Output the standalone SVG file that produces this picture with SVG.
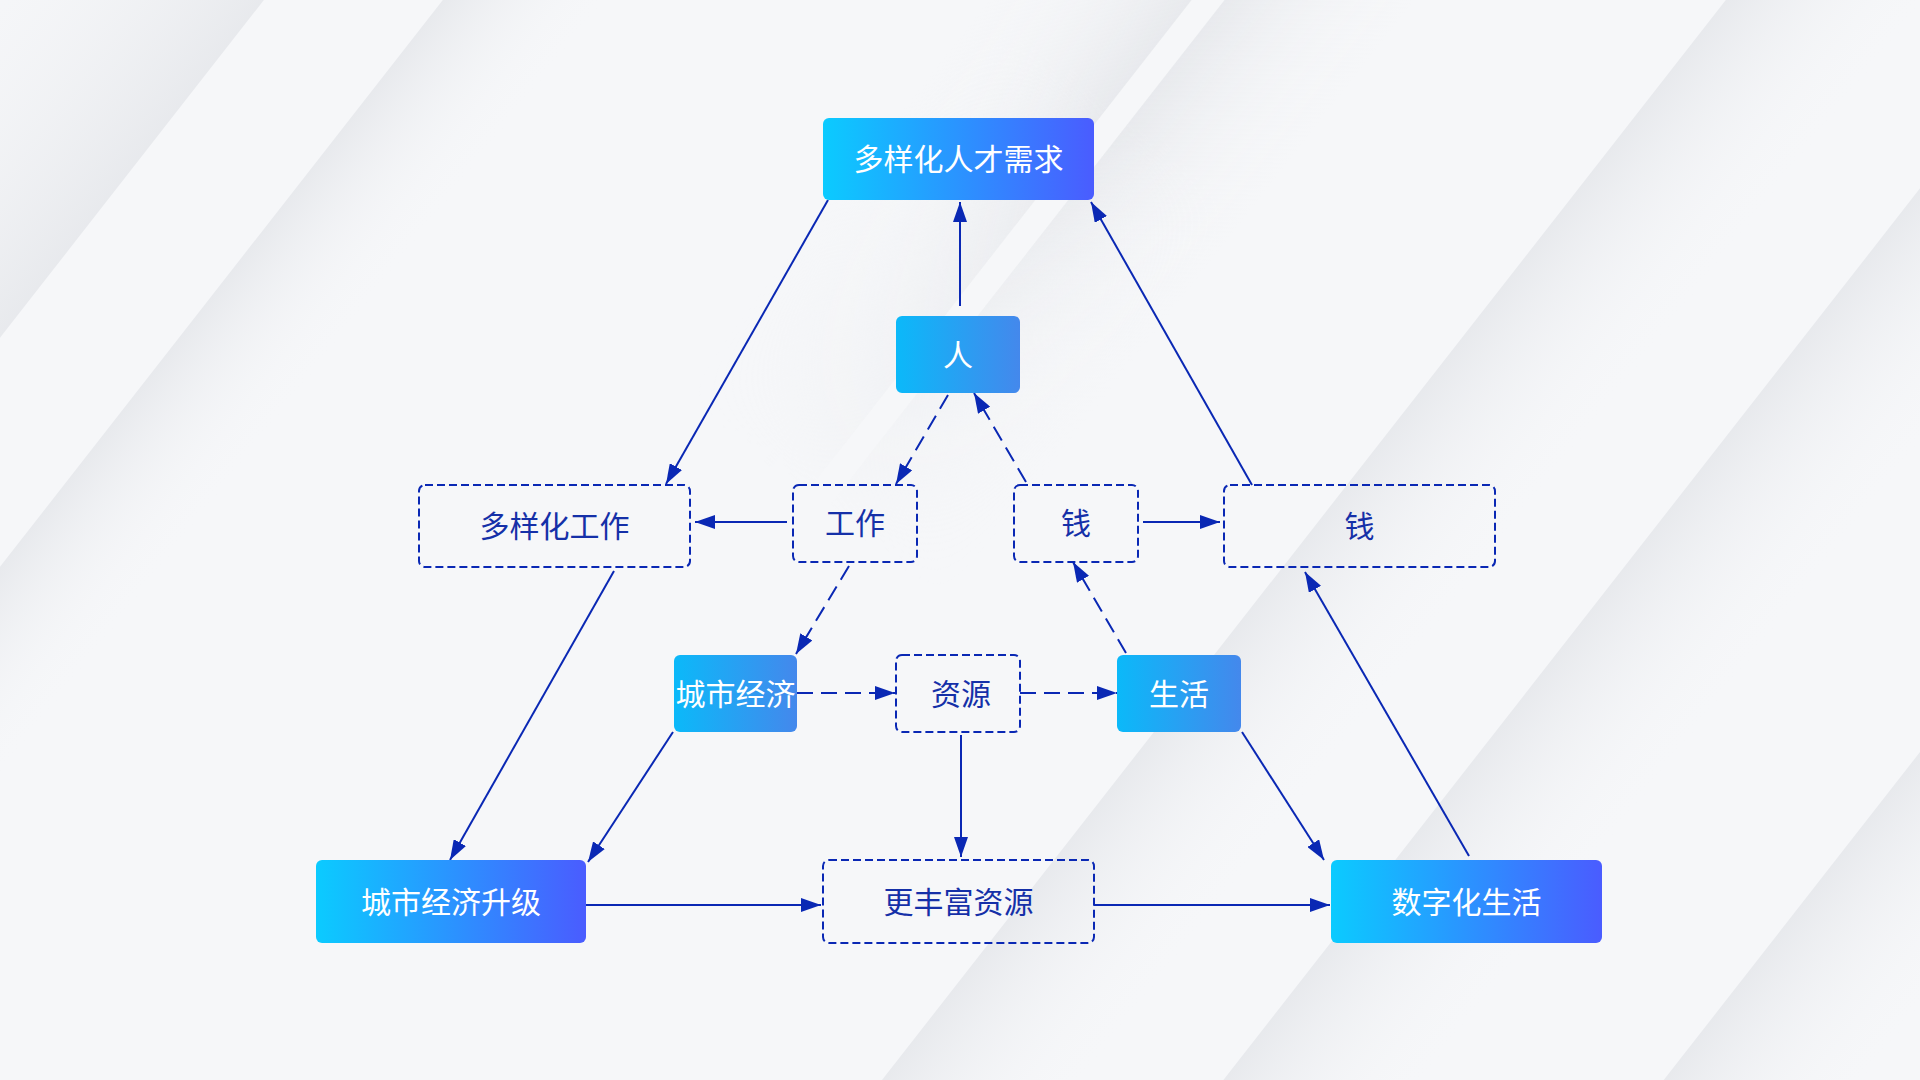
<svg xmlns="http://www.w3.org/2000/svg" width="1920" height="1080" viewBox="0 0 1920 1080">
<defs>
<linearGradient id="gBig" x1="0" y1="0" x2="1" y2="0">
<stop offset="0" stop-color="#0BCBFF"/>
<stop offset="1" stop-color="#4A5CFF"/>
</linearGradient>
<linearGradient id="gSmall" x1="0" y1="0" x2="1" y2="0">
<stop offset="0" stop-color="#0BB9F9"/>
<stop offset="1" stop-color="#4488EC"/>
</linearGradient>
<linearGradient id="bgDown" x1="0" y1="0" x2="0" y2="1">
<stop offset="0" stop-color="#E3E5E9" stop-opacity="0.75"/>
<stop offset="1" stop-color="#F6F7F9" stop-opacity="0"/>
</linearGradient>
<linearGradient id="bgUp" x1="0" y1="1" x2="0" y2="0">
<stop offset="0" stop-color="#E3E5E9" stop-opacity="0.75"/>
<stop offset="1" stop-color="#F6F7F9" stop-opacity="0"/>
</linearGradient>
<linearGradient id="fadeAlong" gradientUnits="userSpaceOnUse" x1="900" y1="0" x2="1400" y2="0">
<stop offset="0" stop-color="#000000"/>
<stop offset="1" stop-color="#FFFFFF"/>
</linearGradient>
<mask id="mTop" maskUnits="userSpaceOnUse" x="-1500" y="-1500" width="4500" height="4500">
<rect x="-1500" y="-1500" width="4500" height="4500" fill="url(#fadeAlong)"/>
</mask>
<marker id="arr" viewBox="0 0 20 14" refX="20" refY="7" markerWidth="20" markerHeight="14" markerUnits="userSpaceOnUse" orient="auto">
<path d="M0,0 L20,7 L0,14 Z" fill="#0A28B4"/>
</marker>
<style>
.big{fill:url(#gBig);}
.small{fill:url(#gSmall);}
.dash{fill:none;stroke:#0A28B4;stroke-width:2;stroke-dasharray:8 4;}
.tw{font-family:"Noto Sans CJK SC","Noto Sans",sans-serif;font-size:30px;fill:#FFFFFF;text-anchor:middle;dominant-baseline:central;}
.tb{font-family:"Noto Sans CJK SC","Noto Sans",sans-serif;font-size:30px;fill:#1530A8;text-anchor:middle;dominant-baseline:central;}
.ln{fill:none;stroke:#0A28B4;stroke-width:2;marker-end:url(#arr);}
.ld{fill:none;stroke:#0A28B4;stroke-width:2;stroke-dasharray:16 8;marker-end:url(#arr);}
</style>
</defs>
<g id="background">
<rect x="0" y="0" width="1920" height="1080" fill="#F6F7F9"/>
<g transform="rotate(-52 960 540)">
<rect x="-1500" y="-620" width="4500" height="279" fill="url(#bgUp)"/>
<rect x="-1500" y="-200" width="4500" height="130" fill="url(#bgDown)"/>
<rect x="-1500" y="230" width="4500" height="160" fill="url(#bgUp)" mask="url(#mTop)"/>
<rect x="-1500" y="416" width="4500" height="150" fill="url(#bgDown)" mask="url(#mTop)"/>
<rect x="-1500" y="811" width="4500" height="160" fill="url(#bgDown)"/>
<rect x="-1500" y="1080" width="4500" height="160" fill="url(#bgDown)"/>
<rect x="-1500" y="1427" width="4500" height="160" fill="url(#bgDown)"/>
</g>
</g>
<g id="connectors">
<path class="ln" d="M960,306 L960,202"/>
<path class="ln" d="M828,200 L666,484"/>
<path class="ln" d="M1252,485 L1091,202"/>
<path class="ld" d="M948,395 L896,484"/>
<path class="ld" d="M1026,482 L974,393"/>
<path class="ln" d="M787,522 L695,522"/>
<path class="ln" d="M1143,522 L1220,522"/>
<path class="ld" d="M849,566 L796,654"/>
<path class="ld" d="M1126,653 L1073,562"/>
<path class="ld" d="M797,693 L895,693"/>
<path class="ld" d="M1020,693 L1117,693"/>
<path class="ln" d="M614,571 L450,860"/>
<path class="ln" d="M673,732 L588,862"/>
<path class="ln" d="M961,735 L961,857"/>
<path class="ln" d="M1469,856 L1305,572"/>
<path class="ln" d="M1242,732 L1324,860"/>
<path class="ln" d="M585,905 L821,905"/>
<path class="ln" d="M1094,905 L1330,905"/>
</g>
<g id="node-talent">
<rect class="big" x="823" y="118" width="271" height="82" rx="6"/>
<text class="tw" x="958.5" y="157">多样化人才需求</text>
</g>
<g id="node-people">
<rect class="small" x="896" y="316" width="124" height="77" rx="6"/>
<text class="tw" x="958" y="352.5">人</text>
</g>
<g id="node-diverse-work">
<rect class="dash" x="419" y="485" width="271" height="82" rx="6"/>
<text class="tb" x="554.5" y="524">多样化工作</text>
</g>
<g id="node-work">
<rect class="dash" x="793" y="485" width="124" height="77" rx="6"/>
<text class="tb" x="855" y="521">工作</text>
</g>
<g id="node-money-small">
<rect class="dash" x="1014" y="485" width="124" height="77" rx="6"/>
<text class="tb" x="1076" y="521">钱</text>
</g>
<g id="node-money-large">
<rect class="dash" x="1224" y="485" width="271" height="82" rx="6"/>
<text class="tb" x="1359.5" y="524">钱</text>
</g>
<g id="node-city-economy">
<rect class="small" x="674" y="655" width="123" height="77" rx="6"/>
<text class="tw" x="735.5" y="691.5">城市经济</text>
</g>
<g id="node-resources">
<rect class="dash" x="896" y="655" width="124" height="77" rx="6"/>
<text class="tb" x="961" y="691.5">资源</text>
</g>
<g id="node-life">
<rect class="small" x="1117" y="655" width="124" height="77" rx="6"/>
<text class="tw" x="1179" y="691.5">生活</text>
</g>
<g id="node-city-upgrade">
<rect class="big" x="316" y="860" width="270" height="83" rx="6"/>
<text class="tw" x="451" y="899.5">城市经济升级</text>
</g>
<g id="node-richer-resources">
<rect class="dash" x="823" y="860" width="271" height="83" rx="6"/>
<text class="tb" x="958.5" y="899.5">更丰富资源</text>
</g>
<g id="node-digital-life">
<rect class="big" x="1331" y="860" width="271" height="83" rx="6"/>
<text class="tw" x="1466.5" y="899.5">数字化生活</text>
</g>
</svg>
